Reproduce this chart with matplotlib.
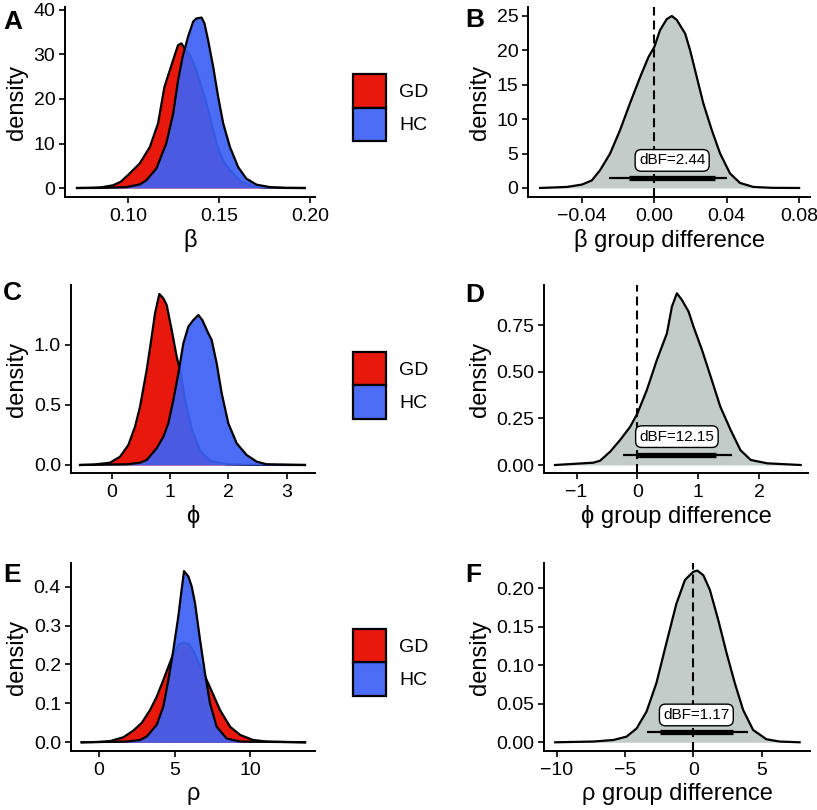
#!/usr/bin/env python3
"""
Posterior densities of model parameters (GD vs HC) and their group differences
"""

import matplotlib
matplotlib.use('Agg')
import matplotlib.pyplot as plt
from matplotlib.patches import Patch

plt.rcParams['font.family'] = ['Liberation Sans', 'DejaVu Sans']

# ---- data ----
groups = ['GD', 'HC']

# panel A: beta posterior densities
beta_gd_x = [0.072, 0.080, 0.085, 0.0917, 0.096, 0.100, 0.1064, 0.112, 0.1165, 0.120, 0.123,
             0.1257, 0.1275, 0.1294, 0.131, 0.134, 0.137, 0.1394, 0.142, 0.144, 0.1486, 0.152,
             0.155, 0.1578, 0.162, 0.1688, 0.175, 0.185, 0.197]
beta_gd_y = [0, 0.05, 0.15, 0.6, 1.4, 2.9, 5.5, 9.2, 14.5, 22.7, 26.5,
             29.9, 32.1, 32.5, 31.4, 29.8, 27.0, 23.9, 20.5, 17.5, 10.0, 6.3,
             4.5, 3.2, 1.5, 0.4, 0.1, 0.02, 0]
beta_hc_x = [0.072, 0.085, 0.099, 0.1064, 0.110, 0.1156, 0.121, 0.1248, 0.1275, 0.130, 0.133,
             0.1358, 0.1376, 0.1404, 0.142, 0.144, 0.1468, 0.1495, 0.1523, 0.156, 0.1605, 0.165,
             0.1706, 0.178, 0.187, 0.197]
beta_hc_y = [0, 0.02, 0.2, 0.8, 1.7, 4.4, 10.0, 16.7, 24.2, 29.5, 34.0,
             37.4, 38.1, 38.3, 37.0, 33.2, 27.2, 20.5, 14.5, 9.2, 4.7, 2.1,
             0.75, 0.2, 0.03, 0]

# panel B: beta group difference
beta_diff_x = [-0.0632, -0.0483, -0.040, -0.0346, -0.030, -0.0245, -0.019, -0.0135, -0.0079,
               -0.0033, 0.0, 0.0031, 0.0068, 0.0096, 0.0123, 0.017, 0.0197, 0.0234, 0.027,
               0.0317, 0.0363, 0.0418, 0.0473, 0.0547, 0.065, 0.080]
beta_diff_y = [0, 0.15, 0.5, 1.1, 2.6, 5.0, 8.4, 12.3, 16.1,
               19.0, 20.5, 22.9, 24.5, 24.95, 24.4, 22.4, 20.0, 16.1, 12.3,
               8.4, 5.0, 2.1, 0.73, 0.15, 0.02, 0]
beta_ci_outer = [-0.0249, 0.040]
beta_ci_inner = [-0.0138, 0.0335]
beta_ci_y = 1.5
beta_dbf = 'dBF=2.44'
beta_label_xy = [0.0098, 4.0]

# panel C: phi posterior densities
phi_gd_x = [-0.543, -0.3, -0.03, 0.143, 0.286, 0.4, 0.486, 0.6, 0.686, 0.743, 0.817, 0.886,
            0.943, 1.029, 1.114, 1.17, 1.257, 1.37, 1.514, 1.686, 1.97, 2.43, 3.314]
phi_gd_y = [0, 0.004, 0.019, 0.069, 0.167, 0.319, 0.486, 0.792, 1.069, 1.264, 1.425, 1.389,
            1.333, 1.125, 0.903, 0.79, 0.55, 0.30, 0.12, 0.035, 0.006, 0.001, 0]
phi_hc_x = [-0.543, 0.257, 0.486, 0.6, 0.771, 0.886, 0.971, 1.057, 1.143, 1.229, 1.314, 1.4,
            1.486, 1.554, 1.657, 1.714, 1.8, 1.886, 2.0, 2.143, 2.314, 2.486, 2.657, 3.314]
phi_hc_y = [0, 0.006, 0.019, 0.042, 0.139, 0.236, 0.347, 0.542, 0.764, 1.014, 1.153, 1.208,
            1.25, 1.208, 1.097, 1.042, 0.847, 0.597, 0.347, 0.181, 0.083, 0.028, 0.006, 0]

# panel D: phi group difference
phi_diff_x = [-1.355, -0.724, -0.614, -0.45, -0.285, -0.12, 0.0, 0.154, 0.318, 0.483, 0.565,
              0.647, 0.73, 0.84, 0.92, 1.06, 1.22, 1.36, 1.53, 1.69, 1.86, 2.13, 2.68]
phi_diff_y = [0, 0.0125, 0.023, 0.071, 0.134, 0.205, 0.277, 0.402, 0.5625, 0.705, 0.848,
              0.92, 0.884, 0.821, 0.741, 0.616, 0.455, 0.3125, 0.1875, 0.080, 0.027, 0.009, 0]
phi_ci_outer = [-0.24, 1.55]
phi_ci_inner = [0.0, 1.29]
phi_ci_y = 0.0536
phi_dbf = 'dBF=12.15'
phi_label_xy = [0.647, 0.152]

# panel E: rho posterior densities
rho_gd_x = [-1.15, 0.0, 0.73, 1.61, 2.27, 2.83, 3.38, 3.82, 4.26, 4.6, 4.95, 5.3, 5.6, 5.95,
            6.3, 6.65, 7.13, 7.57, 8.01, 8.68, 9.34, 10.2, 11.1, 13.64]
rho_gd_y = [0, 0.001, 0.003, 0.013, 0.03, 0.05, 0.083, 0.117, 0.16, 0.195, 0.23, 0.252, 0.256,
            0.252, 0.232, 0.2, 0.16, 0.122, 0.083, 0.04, 0.019, 0.006, 0.002, 0]
rho_hc_x = [-1.15, 1.83, 2.72, 3.16, 3.82, 4.26, 4.59, 4.92, 5.25, 5.47, 5.63, 5.92, 6.14,
            6.36, 6.69, 7.02, 7.35, 7.79, 8.45, 9.34, 13.64]
rho_hc_y = [0, 0.002, 0.006, 0.015, 0.045, 0.092, 0.16, 0.237, 0.323, 0.392, 0.44, 0.426, 0.4,
            0.357, 0.263, 0.177, 0.1, 0.04, 0.01, 0.002, 0]

# panel F: rho group difference
rho_diff_x = [-10.1, -7.3, -5.85, -4.88, -4.15, -3.42, -2.7, -1.97, -1.24, -0.61, 0.0, 0.3,
              0.73, 1.21, 1.82, 2.43, 3.03, 3.64, 4.37, 5.34, 6.3, 7.77]
rho_diff_y = [0, 0.001, 0.003, 0.0074, 0.018, 0.04, 0.077, 0.129, 0.18, 0.211, 0.2216, 0.223,
              0.217, 0.198, 0.159, 0.116, 0.077, 0.042, 0.016, 0.004, 0.001, 0]
rho_ci_outer = [-3.42, 4.0]
rho_ci_inner = [-2.45, 2.9]
rho_ci_y = 0.0134
rho_dbf = 'dBF=1.17'
rho_label_xy = [0.22, 0.0355]

# ticks
a_xticks, a_xlabels = [0.10, 0.15, 0.20], ['0.10', '0.15', '0.20']
a_yticks, a_ylabels = [0, 10, 20, 30, 40], ['0', '10', '20', '30', '40']
b_xticks, b_xlabels = [-0.04, 0.0, 0.04, 0.08], ['\u22120.04', '0.00', '0.04', '0.08']
b_yticks, b_ylabels = [0, 5, 10, 15, 20, 25], ['0', '5', '10', '15', '20', '25']
c_xticks, c_xlabels = [0, 1, 2, 3], ['0', '1', '2', '3']
c_yticks, c_ylabels = [0.0, 0.5, 1.0], ['0.0', '0.5', '1.0']
d_xticks, d_xlabels = [-1, 0, 1, 2], ['\u22121', '0', '1', '2']
d_yticks, d_ylabels = [0.0, 0.25, 0.5, 0.75], ['0.00', '0.25', '0.50', '0.75']
e_xticks, e_xlabels = [0, 5, 10], ['0', '5', '10']
e_yticks, e_ylabels = [0.0, 0.1, 0.2, 0.3, 0.4], ['0.0', '0.1', '0.2', '0.3', '0.4']
f_xticks, f_xlabels = [-10, -5, 0, 5], ['\u221210', '\u22125', '0', '5']
f_yticks, f_ylabels = [0.0, 0.05, 0.10, 0.15, 0.20], ['0.00', '0.05', '0.10', '0.15', '0.20']

# ---- styling ----
GD_COLOR = '#E8190C'
HC_COLOR = (0.235, 0.38, 0.965, 0.92)
DIFF_COLOR = '#C4CCC9'
LW = 1.6
TICK_FS = 14
LABEL_FS = 17


def style_axes(ax, xlim, ylim, xticks, xlabels, yticks, ylabels, xlabel):
    ax.set_xlim(*xlim)
    ax.set_ylim(*ylim)
    for side in ['top', 'right']:
        ax.spines[side].set_visible(False)
    for side in ['left', 'bottom']:
        ax.spines[side].set_linewidth(1.4)
    ax.set_xticks(xticks, xlabels)
    ax.set_yticks(yticks, ylabels)
    ax.tick_params(direction='out', length=4, width=1.2, labelsize=TICK_FS, pad=3)
    ax.tick_params(axis='x', pad=4)
    ax.set_xlabel(xlabel, fontsize=LABEL_FS, labelpad=3)
    ax.set_ylabel('density', fontsize=LABEL_FS, labelpad=4)
    ax.patch.set_visible(False)


def group_panel(ax, gd_x, gd_y, hc_x, hc_y):
    ax.fill_between(gd_x, 0, gd_y, color=GD_COLOR, lw=0, zorder=1)
    ax.plot(gd_x, gd_y, color='black', lw=LW, zorder=2)
    ax.fill_between(hc_x, 0, hc_y, color=HC_COLOR, lw=0, zorder=3)
    ax.plot(hc_x, hc_y, color='black', lw=LW, zorder=4)


def diff_panel(ax, x, y, ci_outer, ci_inner, ci_y, label, label_xy):
    ax.fill_between(x, 0, y, color=DIFF_COLOR, lw=0, zorder=1)
    ax.plot(x, y, color='black', lw=LW, zorder=2)
    ax.axvline(0, color='black', lw=1.5, linestyle=(0, (4.3, 2.4)), zorder=3)
    ax.plot(ci_outer, [ci_y, ci_y], color='black', lw=1.6, solid_capstyle='butt', zorder=4)
    ax.plot(ci_inner, [ci_y, ci_y], color='black', lw=3.8, solid_capstyle='butt', zorder=4)
    ax.text(label_xy[0], label_xy[1], label, ha='center', va='center', fontsize=11, zorder=5,
            bbox=dict(boxstyle='round,pad=0.25,rounding_size=0.4', fc='white', ec='black', lw=1.0))


fig = plt.figure(figsize=(8.17, 8.10), dpi=100)
W, H = 817.0, 810.0


def px_axes(left, top, right, bottom):
    return fig.add_axes([left / W, 1 - bottom / H, (right - left) / W, (bottom - top) / H])


axA = px_axes(65, 7, 315, 197)
axB = px_axes(528, 7, 810, 197)
axC = px_axes(70.7, 285, 315, 473)
axD = px_axes(544, 285, 808, 473)
axE = px_axes(70.7, 563, 315, 751)
axF = px_axes(544, 563, 810, 751)

group_panel(axA, beta_gd_x, beta_gd_y, beta_hc_x, beta_hc_y)
style_axes(axA, (0.0654, 0.2027), (-2.02, 40.67), a_xticks, a_xlabels, a_yticks, a_ylabels, '\u03b2')

diff_panel(axB, beta_diff_x, beta_diff_y, beta_ci_outer, beta_ci_inner, beta_ci_y, beta_dbf, beta_label_xy)
style_axes(axB, (-0.0699, 0.086), (-1.31, 26.26), b_xticks, b_xlabels, b_yticks, b_ylabels,
           '\u03b2 group difference')

group_panel(axC, phi_gd_x, phi_gd_y, phi_hc_x, phi_hc_y)
style_axes(axC, (-0.703, 3.486), (-0.0667, 1.5), c_xticks, c_xlabels, c_yticks, c_ylabels, '\u03d5')

diff_panel(axD, phi_diff_x, phi_diff_y, phi_ci_outer, phi_ci_inner, phi_ci_y, phi_dbf, phi_label_xy)
style_axes(axD, (-1.535, 2.80), (-0.0428, 0.9643), d_xticks, d_xlabels, d_yticks, d_ylabels,
           '\u03d5 group difference')

group_panel(axE, rho_gd_x, rho_gd_y, rho_hc_x, rho_hc_y)
style_axes(axE, (-1.874, 14.30), (-0.0223, 0.4607), e_xticks, e_xlabels, e_yticks, e_ylabels, '\u03c1')

diff_panel(axF, rho_diff_x, rho_diff_y, rho_ci_outer, rho_ci_inner, rho_ci_y, rho_dbf, rho_label_xy)
style_axes(axF, (-10.92, 8.53), (-0.0113, 0.2329), f_xticks, f_xlabels, f_yticks, f_ylabels,
           '\u03c1 group difference')

# legends, one per row
handles = [Patch(facecolor=GD_COLOR, edgecolor='black', lw=1.6),
           Patch(facecolor=HC_COLOR, edgecolor='black', lw=1.6)]
for yc in [107.5, 385.5, 662.5]:
    fig.legend(handles, groups, loc='center left', bbox_to_anchor=(353 / W, 1 - yc / H),
               frameon=False, fontsize=14, handlelength=1.71, handleheight=2.3,
               labelspacing=0.0, handletextpad=0.65, borderpad=0, borderaxespad=0)

# panel letters
for letter, (lx, ly) in zip('ABCDEF', [(3, 10), (465, 8), (3, 281), (465, 283), (3, 563), (465, 563)]):
    fig.text(lx / W, 1 - ly / H, letter, fontsize=19, fontweight='bold', ha='left', va='top')

plt.savefig('out.png', dpi=100)
plt.close()
